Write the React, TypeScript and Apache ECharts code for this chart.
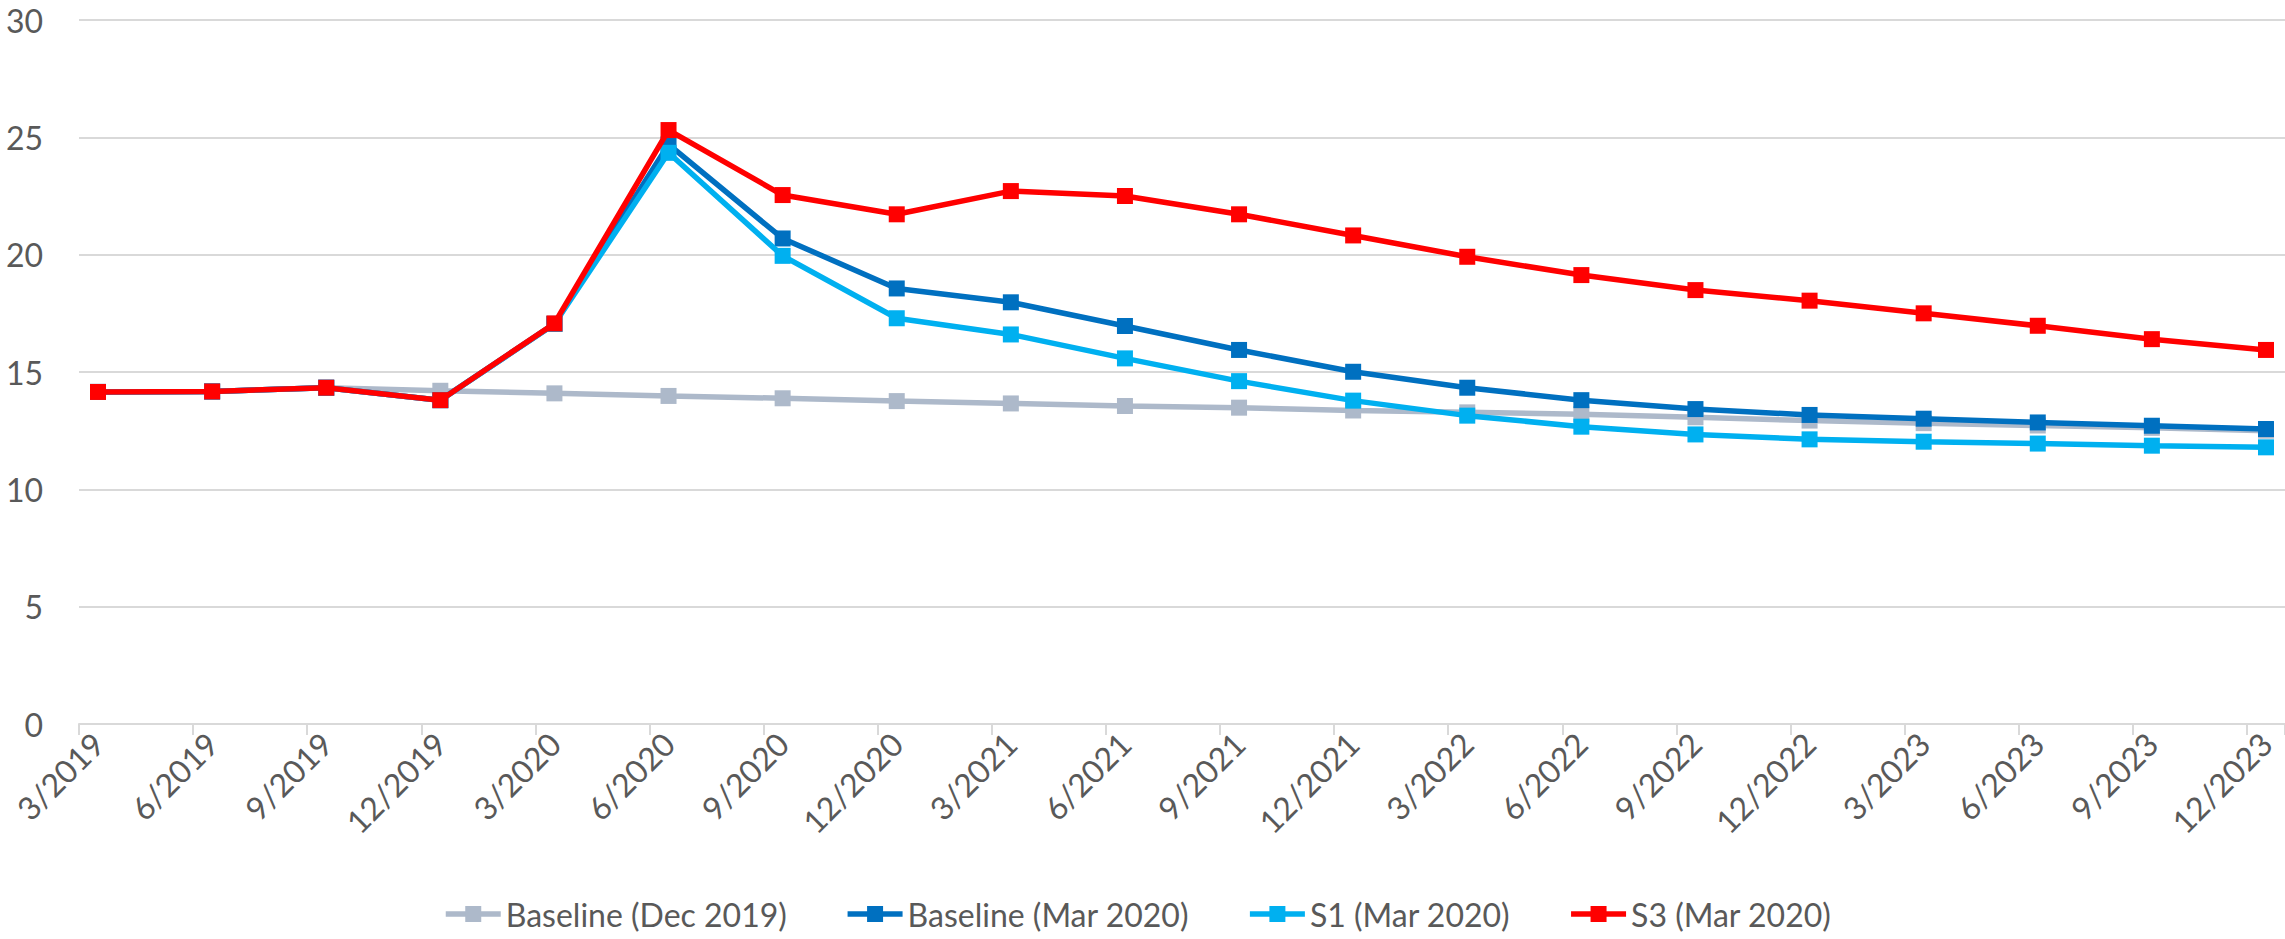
import React, { useEffect, useRef } from "react";
import * as echarts from "echarts";

const quarterLabels = [
  "3/2019", "6/2019", "9/2019", "12/2019",
  "3/2020", "6/2020", "9/2020", "12/2020",
  "3/2021", "6/2021", "9/2021", "12/2021",
  "3/2022", "6/2022", "9/2022", "12/2022",
  "3/2023", "6/2023", "9/2023", "12/2023",
];

const baselineDec2019 = [
  14.15, 14.17, 14.33, 14.2, 14.09, 13.98, 13.88, 13.76, 13.66, 13.55,
  13.48, 13.36, 13.28, 13.2, 13.07, 12.93, 12.82, 12.72, 12.62, 12.5,
];
const baselineMar2020 = [
  14.15, 14.17, 14.33, 13.8, 17.05, 24.7, 20.69, 18.56, 17.97, 16.96,
  15.94, 15.01, 14.33, 13.8, 13.42, 13.17, 13.01, 12.85, 12.71, 12.57,
];
const s1Mar2020 = [
  14.15, 14.17, 14.33, 13.8, 17.05, 24.34, 19.95, 17.29, 16.6, 15.58,
  14.61, 13.78, 13.14, 12.67, 12.34, 12.13, 12.03, 11.95, 11.86, 11.79,
];
const s3Mar2020 = [
  14.15, 14.17, 14.33, 13.8, 17.07, 25.31, 22.54, 21.72, 22.71, 22.5,
  21.72, 20.82, 19.91, 19.13, 18.49, 18.04, 17.5, 16.97, 16.4, 15.94,
];

const seriesNames = [
  "Baseline (Dec 2019)",
  "Baseline (Mar 2020)",
  "S1 (Mar 2020)",
  "S3 (Mar 2020)",
];
const seriesColors = ["#ADB9CA", "#0070C0", "#00B0F0", "#FF0000"];
const yTicks = { min: 0, max: 30, interval: 5 };

// monthly category slots (Excel date axis with month base unit)
const monthCategories: string[] = [];
quarterLabels.forEach((q, i) => {
  monthCategories.push(q);
  if (i < quarterLabels.length - 1) {
    const [m, y] = q.split("/").map(Number);
    for (let k = 1; k <= 2; k++) {
      let mm = m + k;
      let yy = y;
      if (mm > 12) {
        mm -= 12;
        yy += 1;
      }
      monthCategories.push(`${mm}/${yy}`);
    }
  }
});

const FONT = "Lato";
const TEXT_COLOR = "#595959";
const GRID_COLOR = "#D9D9D9";

export default function App() {
  const ref = useRef<HTMLDivElement>(null);

  useEffect(() => {
    if (!ref.current) return;
    const chart = echarts.init(ref.current, undefined, { renderer: "svg" });
    const allData = [baselineDec2019, baselineMar2020, s1Mar2020, s3Mar2020];
    chart.setOption({
      animation: false,
      backgroundColor: "#FFFFFF",
      textStyle: { fontFamily: FONT },
      grid: { left: 79, right: 0, top: 20, bottom: 215, containLabel: false },
      legend: {
        left: 443,
        top: 898,
        padding: 0,
        itemWidth: 55,
        itemHeight: 20,
        itemGap: 58,
        lineStyle: { width: 5.5 },
        textStyle: { fontFamily: FONT, fontSize: 32, color: TEXT_COLOR },
        data: seriesNames,
      },
      xAxis: {
        type: "category",
        data: monthCategories,
        boundaryGap: true,
        axisLine: { show: true, lineStyle: { color: GRID_COLOR, width: 2 } },
        axisTick: {
          show: true,
          interval: 2,
          alignWithLabel: false,
          length: 11,
          lineStyle: { color: GRID_COLOR, width: 2 },
        },
        axisLabel: {
          interval: 2,
          rotate: 45,
          margin: 14,
          fontFamily: FONT,
          fontSize: 32,
          color: TEXT_COLOR,
        },
        splitLine: { show: false },
      },
      yAxis: {
        type: "value",
        min: yTicks.min,
        max: yTicks.max,
        interval: yTicks.interval,
        axisLine: { show: false },
        axisTick: { show: false },
        axisLabel: {
          margin: 36,
          fontFamily: FONT,
          fontSize: 32,
          color: TEXT_COLOR,
        },
        splitLine: { show: true, lineStyle: { color: GRID_COLOR, width: 2 } },
      },
      series: seriesNames.map((name, si) => ({
        name,
        type: "line",
        data: allData[si].map((v, i) => [quarterLabels[i], v]),
        symbol: "rect",
        symbolSize: 16,
        showSymbol: true,
        lineStyle: { color: seriesColors[si], width: 5.5 },
        itemStyle: { color: seriesColors[si] },
        z: 2 + si,
      })),
    });
    return () => chart.dispose();
  }, []);

  return (
    <div
      ref={ref}
      style={{ position: "absolute", left: 0, top: 0, width: 2285, height: 939 }}
    />
  );
}
